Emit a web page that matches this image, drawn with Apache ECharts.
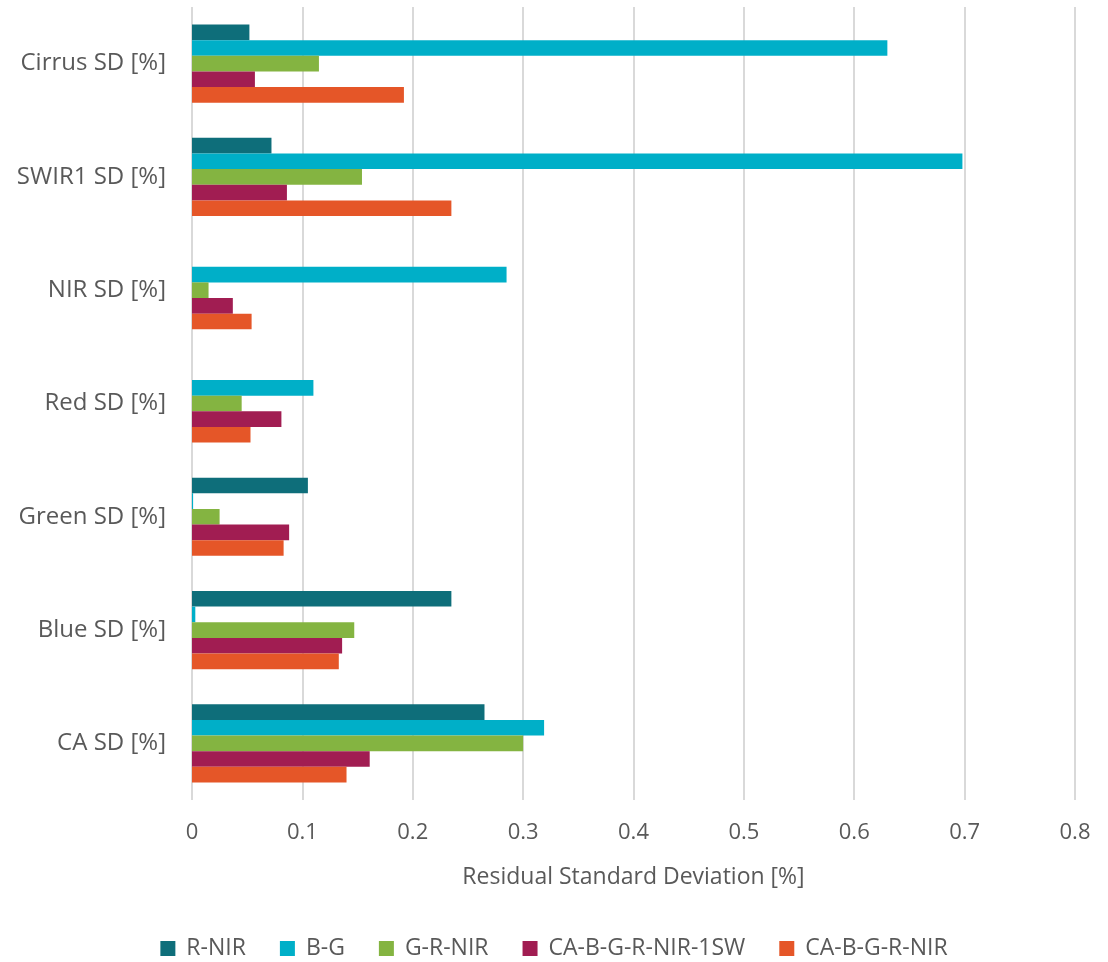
<!DOCTYPE html>
<html>
<head>
<meta charset="utf-8">
<script src="https://cdn.jsdelivr.net/npm/echarts@6/dist/echarts.min.js"></script>
<style>html,body{margin:0;padding:0;background:#fff}#c{width:1108px;height:962px}</style>
</head>
<body>
<div id="c"></div>
<script>
// categories listed top to bottom (y axis is inverted)
const categories = ['Cirrus SD [%]', 'SWIR1 SD [%]', 'NIR SD [%]', 'Red SD [%]', 'Green SD [%]', 'Blue SD [%]', 'CA SD [%]'];
const seriesNames = ['R-NIR', 'B-G', 'G-R-NIR', 'CA-B-G-R-NIR-1SW', 'CA-B-G-R-NIR'];
const rNir      = [0.052, 0.072, 0,     0,     0.105, 0.235, 0.265];
const bG        = [0.630, 0.698, 0.285, 0.110, 0.001, 0.003, 0.319];
const gRNir     = [0.115, 0.154, 0.015, 0.045, 0.025, 0.147, 0.300];
const caBGRNir1SW = [0.057, 0.086, 0.037, 0.081, 0.088, 0.136, 0.161];
const caBGRNir  = [0.192, 0.235, 0.054, 0.053, 0.083, 0.133, 0.140];
const colors = ['#0E6E7A', '#00AFC8', '#84B441', '#A11D52', '#E55628'];
const xTicks = [0, 0.1, 0.2, 0.3, 0.4, 0.5, 0.6, 0.7, 0.8];

const values = [rNir, bG, gRNir, caBGRNir1SW, caBGRNir];
const font = 'Open Sans';
const chart = echarts.init(document.getElementById('c'));
chart.setOption({
  animation: false,
  color: colors,
  grid: { left: 192, right: 33, top: 7, bottom: 162, containLabel: false },
  legend: {
    bottom: -3, left: 'center', itemWidth: 15, itemHeight: 15, itemGap: 34,
    icon: 'rect',
    textStyle: { fontFamily: font, fontSize: 23, color: '#595959', padding: [0, 0, 0, 6] },
    data: seriesNames
  },
  xAxis: {
    type: 'value', min: 0, max: 0.8, interval: 0.1,
    name: 'Residual Standard Deviation [%]', nameLocation: 'middle', nameGap: 66,
    nameTextStyle: { fontFamily: font, fontSize: 23, color: '#595959' },
    axisLine: { show: false }, axisTick: { show: false },
    axisLabel: { fontFamily: font, fontSize: 22, color: '#595959', margin: 22,
      formatter: v => String(Math.round(v * 10) / 10) },
    splitLine: { show: true, lineStyle: { color: '#D9D9D9', width: 2 } }
  },
  yAxis: {
    type: 'category', inverse: true, data: categories,
    axisLine: { show: false }, axisTick: { show: false },
    axisLabel: { fontFamily: font, fontSize: 24, color: '#595959', margin: 26 }
  },
  series: seriesNames.map((n, i) => ({
    name: n, type: 'bar', data: values[i],
    barGap: '0%', barCategoryGap: '31%',
    itemStyle: { color: colors[i] }
  }))
});
</script>
</body>
</html>
